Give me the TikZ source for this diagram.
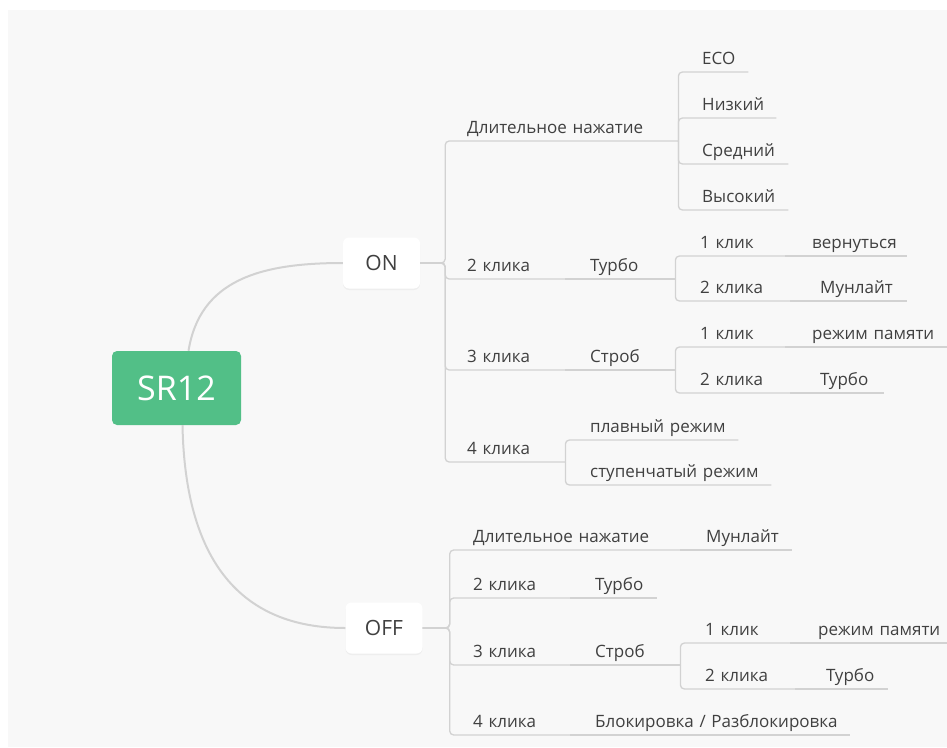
\documentclass[tikz,border=0pt]{standalone}
\usepackage{fontspec}
\setmainfont{Open Sans}
\usetikzlibrary{shadows}
\definecolor{mapgreen}{HTML}{52BF87}
\definecolor{maptext}{HTML}{404040}
\definecolor{mapline}{HTML}{D2D2D2}
\definecolor{mapbg}{HTML}{F8F8F8}
\tikzset{
  topic/.style={anchor=south west, inner xsep=0pt, inner ysep=7pt, text depth=0pt,
    text width=#1, align=left, text=maptext, font=\fontsize{17}{20}\selectfont,
    execute at begin node=\noindent\hbox\bgroup, execute at end node=\egroup},
  link/.style={draw=mapline, line width=1.3pt, rounded corners=4pt},
  curve/.style={draw=mapline, line width=2pt},
  root/.style={fill=mapgreen, rounded corners=5pt, text=white, font=\fontsize{34}{38}\selectfont,
    minimum width=129pt, minimum height=74pt},
  state/.style={fill=white, rounded corners=6pt, text=maptext, font=\fontsize{21}{25}\selectfont,
    minimum width=77pt, minimum height=51pt,
    drop shadow={opacity=0.08, shadow xshift=0pt, shadow yshift=-1.5pt}}
}
\begin{document}
\begin{tikzpicture}[x=1pt, y=-1pt]
	\useasboundingbox (0,0) rectangle (947,747);
	\fill[white] (0,0) rectangle (947,747);
	\fill[mapbg] (8,10) rectangle (947,747);

	\node[root] (sr) at (176.5,388) {SR12};
	\node[state] (on) at (381.5,263) {ON};
	\node[state] (off) at (384,628) {OFF};

	\node[topic=211pt] (onlong) at (467,141) {Длительное нажатие};
	\node[topic=46pt] (eco) at (702,72) {ECO};
	\node[topic=74pt] (low) at (702,118) {Низкий};
	\node[topic=86pt] (mid) at (702,164) {Средний};
	\node[topic=86pt] (high) at (702,210) {Высокий};
	\node[topic=98pt] (ondbl) at (467,279) {2 клика};
	\node[topic=85pt] (onturbo) at (590,279) {Турбо};
	\node[topic=85pt] (tone) at (700,256) {1 клик};
	\node[topic=95pt] (tback) at (812,256) {вернуться};
	\node[topic=90pt] (ttwo) at (700,301) {2 клика};
	\node[topic=87pt] (tmoon) at (820,301) {Мунлайт};
	\node[topic=98pt] (ontri) at (467,370) {3 клика};
	\node[topic=85pt] (onstrobe) at (590,370) {Строб};
	\node[topic=85pt] (sone) at (700,347) {1 клик};
	\node[topic=135pt] (smem) at (812,347) {режим памяти};
	\node[topic=90pt] (stwo) at (700,393) {2 клика};
	\node[topic=64pt] (sturbo) at (820,393) {Турбо};
	\node[topic=98pt] (onquad) at (467,462) {4 клика};
	\node[topic=148pt] (smooth) at (590,440) {плавный режим};
	\node[topic=181pt] (stepped) at (590,485) {ступенчатый режим};

	\node[topic=207pt] (offlong) at (473,550) {Длительное нажатие};
	\node[topic=86pt] (offmoon) at (706,550) {Мунлайт};
	\node[topic=97pt] (offdbl) at (473,598) {2 клика};
	\node[topic=62pt] (offturbo) at (595,598) {Турбо};
	\node[topic=97pt] (offtri) at (473,665) {3 клика};
	\node[topic=85pt] (offstrobe) at (595,665) {Строб};
	\node[topic=85pt] (osone) at (705,643) {1 клик};
	\node[topic=129pt] (osmem) at (818,643) {режим памяти};
	\node[topic=90pt] (ostwo) at (705,689) {2 клика};
	\node[topic=62pt] (osturbo) at (826,689) {Турбо};
	\node[topic=97pt] (offquad) at (473,735) {4 клика};
	\node[topic=255pt] (offlock) at (595,735) {Блокировка / Разблокировка};

	\draw[curve] ([xshift=12pt]sr.north) .. controls (200,280) and (260,263) .. (on.west);
	\draw[curve] ([xshift=6pt]sr.south) .. controls (185,560) and (240,628) .. (off.west);

	\foreach \n in {onlong,ondbl,ontri,onquad}
		\draw[link] (on.east) -- ++(25,0) |- (\n.south east);
	\foreach \n in {eco,low,mid,high}
		\draw[link] (onlong.south east) |- (\n.south east);
	\foreach \n in {tone,ttwo}
		\draw[link] (onturbo.south east) |- (\n.south east);
	\foreach \n in {sone,stwo}
		\draw[link] (onstrobe.south east) |- (\n.south east);
	\foreach \n in {smooth,stepped}
		\draw[link] (onquad.south east) |- (\n.south east);
	\foreach \n in {offlong,offdbl,offtri,offquad}
		\draw[link] (off.east) -- ++(27,0) |- (\n.south east);
	\foreach \n in {osone,ostwo}
		\draw[link] (offstrobe.south east) |- (\n.south east);
	\foreach \n/\m in {ondbl/onturbo,ontri/onstrobe,tone/tback,ttwo/tmoon,sone/smem,stwo/sturbo,
		offlong/offmoon,offdbl/offturbo,offtri/offstrobe,osone/osmem,ostwo/osturbo,offquad/offlock}
		\draw[link] (\n.south east) -- (\m.south east);
\end{tikzpicture}
\end{document}
